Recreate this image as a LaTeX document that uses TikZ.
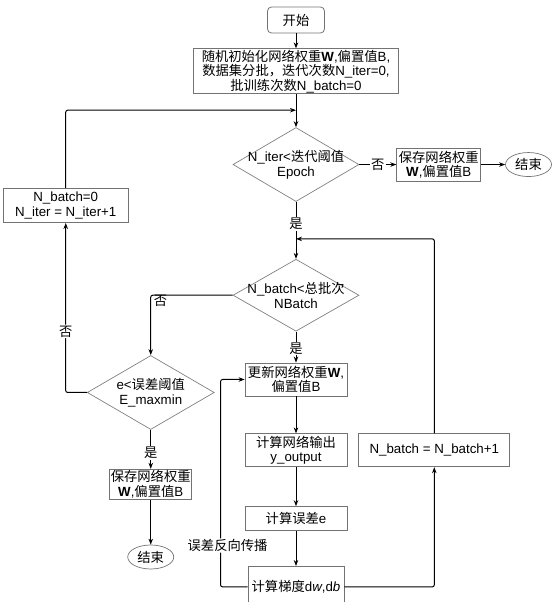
\documentclass[tikz,border=0pt]{standalone}
\usepackage{fontspec}
\setmainfont{Liberation Sans}
\newfontfamily\zh{Noto Sans CJK SC}
\usetikzlibrary{shapes.geometric, arrows.meta, positioning}

\begin{document}
\begin{tikzpicture}[
  font=\fontsize{13.3}{14.5}\selectfont,
  >={Stealth[length=6pt, width=4.5pt]},
  line width=1pt,
  box/.style={rectangle, draw=black!55, line width=0.8pt, align=center, inner sep=1pt},
  startbox/.style={box, rounded corners=4pt, minimum width=57pt, minimum height=26pt},
  decision/.style={diamond, draw=black!50, line width=0.7pt, inner sep=0pt, minimum width=126pt, minimum height=74pt},
  terminal/.style={ellipse, draw=black!55, line width=0.7pt, inner sep=0pt, minimum width=46pt, minimum height=24pt},
  lbl/.style={fill=white, inner sep=1pt}
]
  \useasboundingbox (-296pt,20pt) rectangle (261pt,-582pt);

  % main column
  \node[startbox] (start) {{\zh 开始}};
  \node[box, below=15pt of start, minimum width=205pt, minimum height=41pt] (init)
    {{\zh 随机初始化网络权重}\textbf{W},{\zh 偏置值}B,\\{\zh 数据集分批，迭代次数}N\_iter=0,\\{\zh 批训练次数}N\_batch=0};
  \node[decision, below=33pt of init, label={[align=center]center:{N\_iter<{\zh 迭代阈值}\\Epoch}}] (d1) {};
  \node[decision, below=57pt of d1, minimum height=72pt, label={[align=center]center:{N\_batch<{\zh 总批次}\\NBatch}}] (d2) {};
  \node[box, below=31pt of d2, minimum width=102pt, minimum height=33pt] (update) {{\zh 更新网络权重}\textbf{W},\\{\zh 偏置值}B};
  \node[box, below=37pt of update, minimum width=102pt, minimum height=33pt] (output) {{\zh 计算网络输出}\\y\_output};
  \node[box, below=39pt of output, minimum width=102pt, minimum height=24pt] (error) {{\zh 计算误差}e};
  \node[box, below=35pt of error, minimum width=96pt, minimum height=41pt] (grad) {{\zh 计算梯度}d\textit{w},d\textit{b}};

  % right side
  \node[box, right=37pt of d1, minimum width=84pt, minimum height=33pt] (save1) {{\zh 保存网络权重}\\\textbf{W},{\zh 偏置值}B};
  \node[terminal, right=24pt of save1] (end1) {{\zh 结束}};
  \node[box, right=11pt of output, minimum width=151pt, minimum height=33pt] (nb) {N\_batch = N\_batch+1};

  % left side
  \node[box, left=104pt of d1, yshift=-41pt, minimum width=125pt, minimum height=34pt] (loopbox) {N\_batch=0\\N\_iter = N\_iter+1};
  \node[decision, left=30pt of update, yshift=-13pt, minimum width=127pt, label={[align=center]center:{e<{\zh 误差阈值}\\E\_maxmin}}] (d3) {};
  \node[box, below=39pt of d3, minimum width=80pt, minimum height=30pt] (save2) {{\zh 保存网络权重}\\\textbf{W},{\zh 偏置值}B};
  \node[terminal, below=45pt of save2] (end2) {{\zh 结束}};

  \coordinate[below=16pt of init.south] (j1);
  \coordinate[below=37pt of d1.south] (j2);

  \draw[->] (start) -- (init);
  \draw[->] (init) -- (d1);
  \draw[->] (d1) -- node[lbl] {{\zh 否}} (save1);
  \draw[->] (save1) -- (end1);
  \draw[->] (d1) -- node[lbl, pos=0.39] {{\zh 是}} (d2);
  \draw[->] (d2) -- node[lbl, pos=0.55] {{\zh 是}} (update);
  \draw[->] (update) -- (output);
  \draw[->] (output) -- (error);
  \draw[->] (error) -- (grad);
  \draw[->, rounded corners=2pt] (grad.east) -| (nb.south);
  \draw[->, rounded corners=2pt] (nb.north) |- (j2);
  \draw[->, rounded corners=2pt] (grad.west) -- ++(-27pt,0) |- node[lbl, pos=0.1, xshift=7pt] {{\zh 误差反向传播}} (update.west);
  \draw[->, rounded corners=2pt] (d2.west) -| node[pos=0.44, yshift=-6pt, inner sep=0pt] {{\zh 否}} (d3.north);
  \draw[->, rounded corners=2pt] (d3.west) -| node[lbl, pos=0.68] {{\zh 否}} (loopbox.south);
  \draw[->, rounded corners=2pt] (loopbox.north) |- (j1);
  \draw[->] (d3) -- node[lbl, pos=0.59] {{\zh 是}} (save2);
  \draw[->] (save2) -- (end2);
\end{tikzpicture}
\end{document}
